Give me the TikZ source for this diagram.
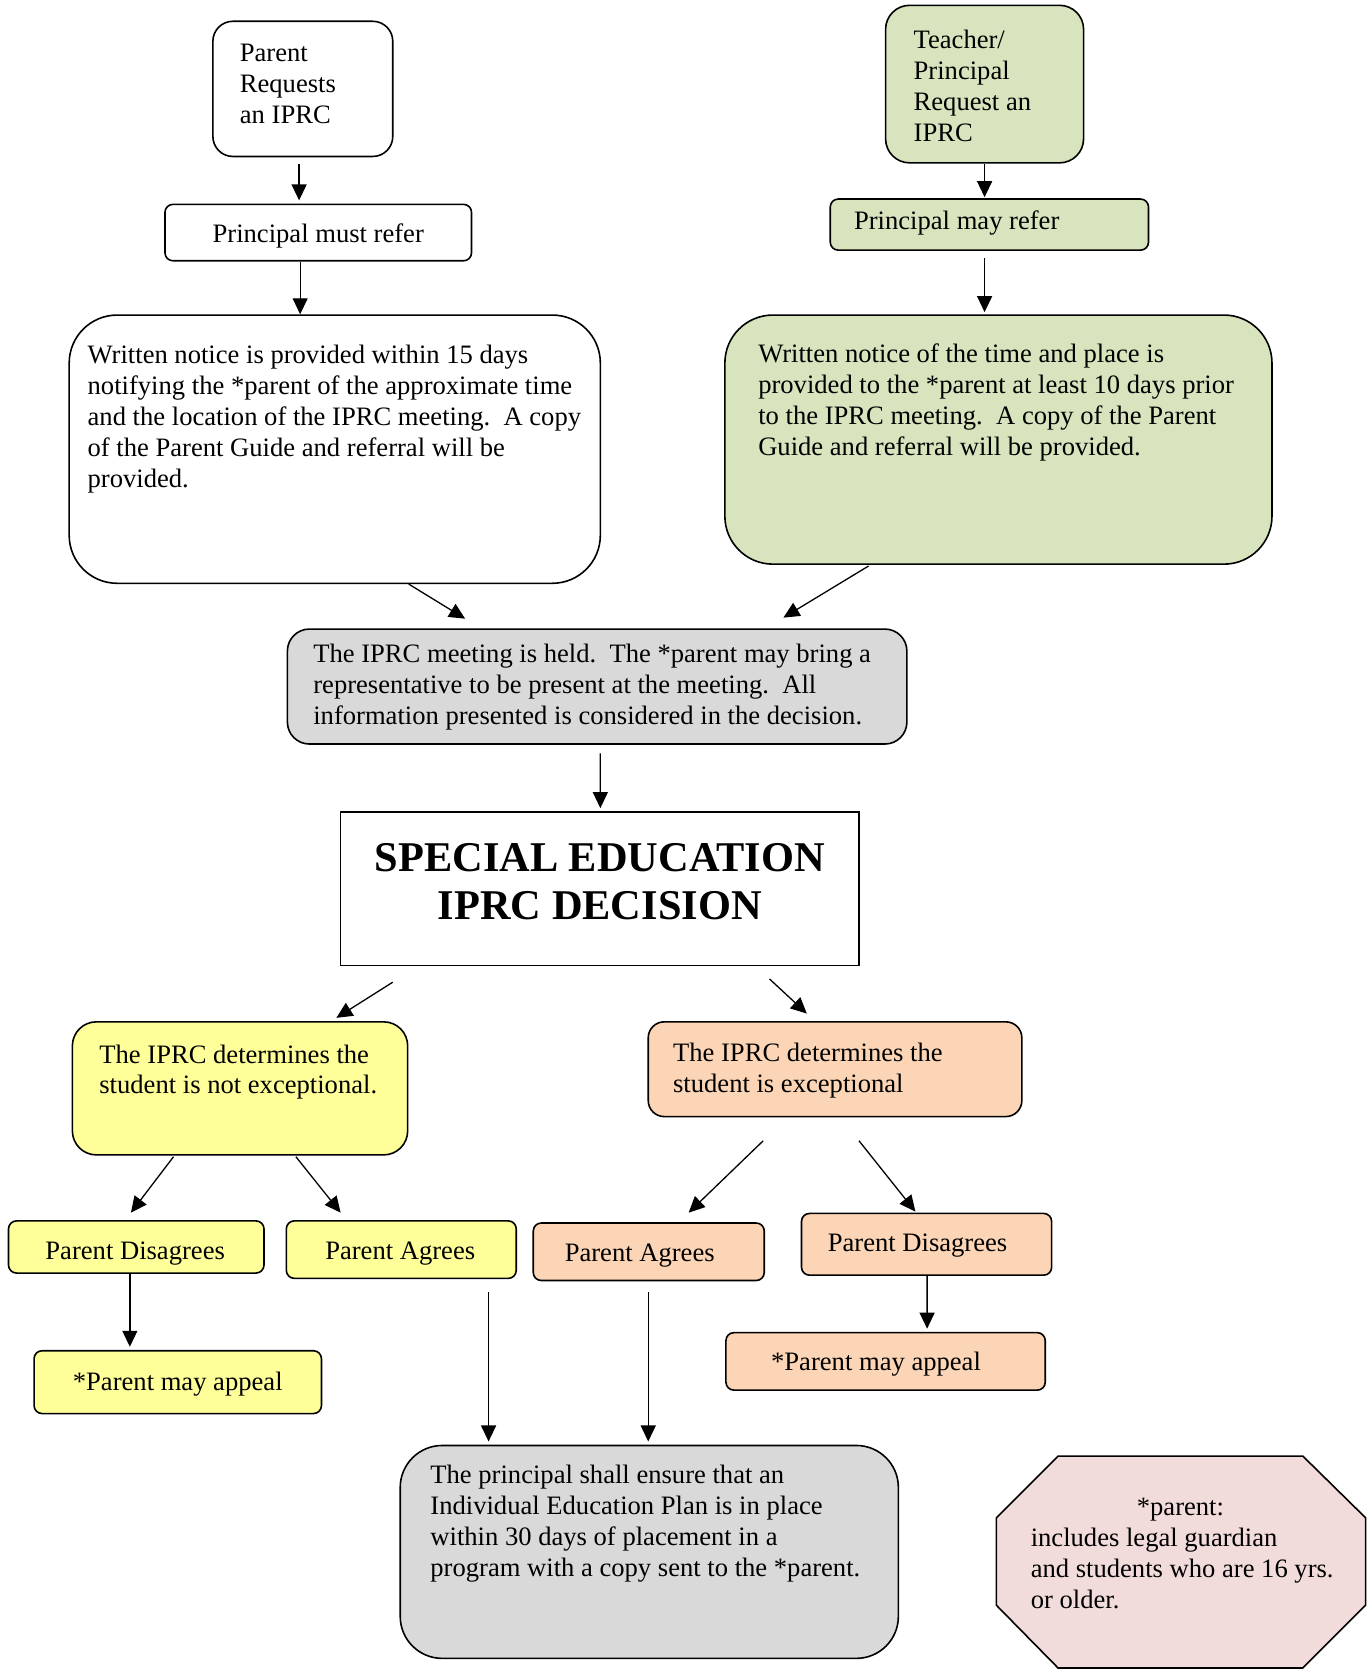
\documentclass[tikz,border=0pt]{standalone}
\usepackage{fontspec}
\setmainfont{Liberation Serif}
\usetikzlibrary{arrows.meta,fit,calc}
\definecolor{cgreen}{HTML}{D7E4BD}
\definecolor{cyellow}{HTML}{FFFF99}
\definecolor{corange}{HTML}{FBD5B5}
\definecolor{cgray}{HTML}{D9D9D9}
\definecolor{cpink}{HTML}{F2DCDB}
\begin{document}
\begin{tikzpicture}[x=0.5323pt,y=-0.5323pt,
  box/.style={draw=black, line width=0.8pt, inner sep=0pt},
  smallbox/.style={box, rounded corners=4pt},
  txt/.style={inner sep=0pt, align=left, font=\fontsize{13.3}{15.44}\selectfont},
  arr/.style={line width=0.65pt, -{Triangle[length=8pt,width=7.5pt]}}
]
\useasboundingbox (0,0) rectangle (1284,1568);

% top left branch
\node[box, fill=white, rounded corners=10pt, fit={(200,20)(369,147)}] (pr) {};
\node[txt, anchor=north west] (prT) at (225,41) {Parent\\Requests\\an IPRC};
\node[smallbox, fit={(155,192)(443,245)}] (pmr) {};
\node[txt, anchor=base] (pmrT) at (299,228) {Principal must refer};
\node[box, rounded corners=24pt, fit={(65,296)(564,548)}] (wl) {};
\node[txt, anchor=north west] (wlT) at (82,324) {Written notice is provided within 15 days\\notifying the *parent of the approximate time\\and the location of the IPRC meeting.\ \ A copy\\of the Parent Guide and referral will be\\provided.};

% top right branch
\node[box, fill=cgreen, rounded corners=12pt, fit={(832,5)(1018,153)}] (tp) {};
\node[txt, anchor=north west] (tpT) at (858,28) {Teacher/\\Principal\\Request an\\IPRC};
\node[smallbox, fill=cgreen, fit={(780,187)(1079,235)}] (pmy) {};
\node[txt, anchor=base west] (pmyT) at (802,216) {Principal may refer};
\node[box, fill=cgreen, rounded corners=24pt, fit={(681,296)(1195,530)}] (wr) {};
\node[txt, anchor=north west] (wrT) at (712,323) {Written notice of the time and place is\\provided to the *parent at least 10 days prior\\to the IPRC meeting.\ \ A copy of the Parent\\Guide and referral will be provided.};

% meeting and decision
\node[box, fill=cgray, rounded corners=11pt, fit={(270,591)(852,699)}] (meet) {};
\node[txt, anchor=north west] (meetT) at (294,605) {The IPRC meeting is held.\ \ The *parent may bring a\\representative to be present at the meeting.\ \ All\\information presented is considered in the decision.};
\node[box, fill=white, fit={(320,763)(807,907)}] (dec) {};
\node[txt, align=center, anchor=north, font=\bfseries\fontsize{21.2}{24}\selectfont] (decT) at (563.5,792) {SPECIAL EDUCATION\\IPRC DECISION};

% not exceptional
\node[box, fill=cyellow, rounded corners=12pt, fit={(68,960)(383,1085)}] (ne) {};
\node[txt, anchor=north west] (neT) at (93,981) {The IPRC determines the\\student is not exceptional.};
\node[smallbox, fill=cyellow, fit={(8,1147)(248,1196)}] (pdY) {};
\node[txt, anchor=base] (pdYT) at (127,1183) {Parent Disagrees};
\node[smallbox, fill=cyellow, fit={(269,1147)(485,1201)}] (paY) {};
\node[txt, anchor=base] (paYT) at (376,1183) {Parent Agrees};
\node[smallbox, fill=cyellow, fit={(32,1269)(302,1328)}] (apY) {};
\node[txt, anchor=base] (apYT) at (167,1306) {*Parent may appeal};

% exceptional
\node[box, fill=corange, rounded corners=8pt, fit={(609,960)(960,1049)}] (ex) {};
\node[txt, anchor=north west] (exT) at (632,980) {The IPRC determines the\\student is exceptional};
\node[smallbox, fill=corange, fit={(501,1149)(718,1203)}] (paO) {};
\node[txt, anchor=base] (paOT) at (601,1185) {Parent Agrees};
\node[smallbox, fill=corange, fit={(753,1140)(988,1198)}] (pdO) {};
\node[txt, anchor=base] (pdOT) at (862,1176) {Parent Disagrees};
\node[smallbox, fill=corange, fit={(682,1252)(982,1306)}] (apO) {};
\node[txt, anchor=base] (apOT) at (823,1288) {*Parent may appeal};

% IEP
\node[box, fill=cgray, rounded corners=21pt, fit={(376,1358)(844,1558)}] (ps) {};
\node[txt, anchor=north west] (psT) at (404,1376) {The principal shall ensure that an\\Individual Education Plan is in place\\within 30 days of placement in a\\program with a copy sent to the *parent.};

% octagon note
\draw[line width=0.8pt, fill=cpink] (994,1368) -- (1224,1368) -- (1283,1426) -- (1283,1508) -- (1224,1567) -- (994,1567) -- (936,1508) -- (936,1426) -- cycle;
\node[txt, anchor=base] (octA) at (1109,1424) {*parent:};
\node[txt, anchor=north west] (octB) at (968,1435) {includes legal guardian\\and students who are 16 yrs.\\or older.};

% connectors
\draw[arr] ($(pr.south)+(-3.5,6)$) -- ($(pmr.north)+(-18,-3)$);
\draw[arr] ($(pmr.south)+(-17,0)$) -- ($(wl.north)+(-32.5,0)$);
\draw[arr] (tp.south) -- ($(pmy.north)+(-4.5,-1)$);
\draw[arr] ($(pmy.south)+(-4.5,7)$) -- ($(wr.north)+(-13,-2)$);
\draw[arr] ($(wl.south)+(69.5,0)$) -- ($(meet.north)+(-124,-9)$);
\draw[arr] ($(wr.south)+(-122,1)$) -- ($(meet.north)+(175,-10)$);
\draw[arr] ($(meet.south)+(3,8)$) -- ($(dec.north)+(0.5,-3)$);
\draw[arr] ($(dec.south)+(-194.5,15)$) -- ($(ne.north)+(90.5,-3)$);
\draw[arr] ($(dec.south)+(159.5,12)$) -- ($(ex.north)+(-26.5,-7)$);
\draw[arr] ($(ne.south)+(-62.5,1)$) -- ($(pdY.north)+(-5,-7)$);
\draw[arr] ($(ne.south)+(52.5,1)$) -- ($(paY.north)+(-57,-7)$);
\draw[arr] ($(ex.south)+(-67.5,22)$) -- ($(paO.north)+(37.5,-9)$);
\draw[arr] ($(ex.south)+(22.5,22)$) -- ($(pdO.north)+(-10.5,-1)$);
\draw[arr] ($(pdY.south)+(-6,0)$) -- ($(apY.north)+(-45,-3)$);
\draw[arr] ($(pdO.south)+(0.5,0)$) -- ($(apO.north)+(39,-3)$);
\draw[arr] ($(paY.south)+(82,12)$) -- ($(ps.north)+(-151,-3)$);
\draw[arr] ($(paO.south)+(-0.5,10)$) -- ($(ps.north)+(-1,-3)$);
\end{tikzpicture}
\end{document}
